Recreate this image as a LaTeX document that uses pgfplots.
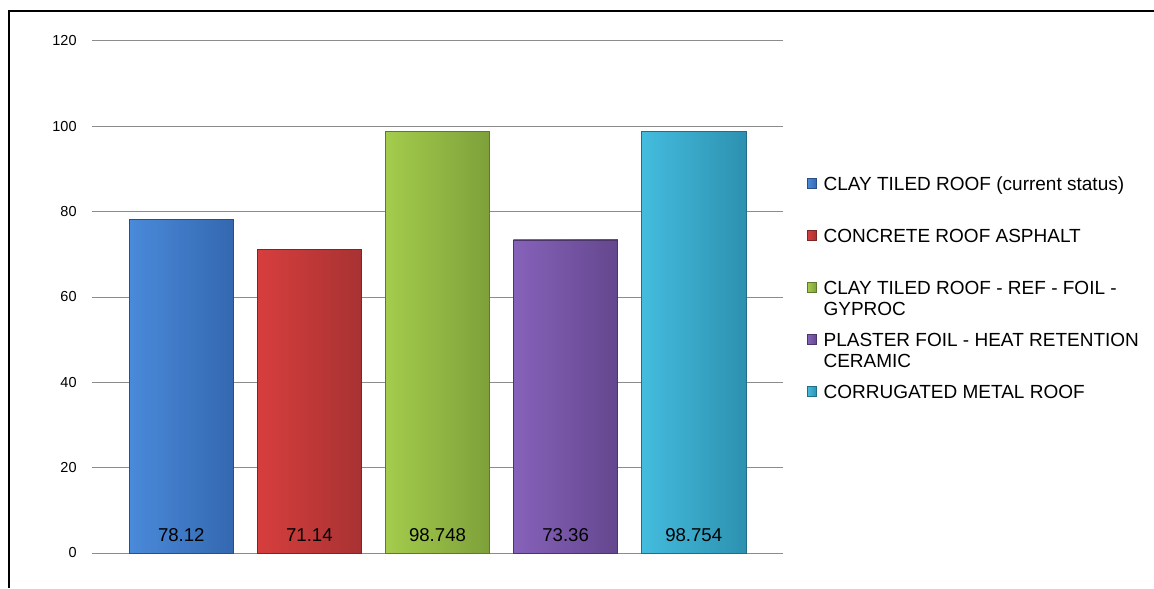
\documentclass[border=0pt]{standalone}
\usepackage{pgfplots}
\pgfplotsset{compat=1.18}
\usepackage{fontspec}
\setmainfont{Liberation Sans}

\definecolor{gridgray}{RGB}{140,140,140}
\definecolor{blueL}{RGB}{74,138,218}
\definecolor{blueM}{RGB}{60,120,198}
\definecolor{blueD}{RGB}{52,104,176}
\definecolor{blueE}{RGB}{40,80,135}
\definecolor{redL}{RGB}{215,62,62}
\definecolor{redM}{RGB}{188,58,58}
\definecolor{redD}{RGB}{168,50,50}
\definecolor{redE}{RGB}{125,38,38}
\definecolor{greenL}{RGB}{164,204,76}
\definecolor{greenM}{RGB}{143,180,66}
\definecolor{greenD}{RGB}{126,160,58}
\definecolor{greenE}{RGB}{95,120,45}
\definecolor{purpL}{RGB}{134,98,186}
\definecolor{purpM}{RGB}{114,81,160}
\definecolor{purpD}{RGB}{100,71,142}
\definecolor{purpE}{RGB}{75,53,106}
\definecolor{cyanL}{RGB}{68,188,222}
\definecolor{cyanM}{RGB}{52,164,198}
\definecolor{cyanD}{RGB}{45,145,176}
\definecolor{cyanE}{RGB}{34,110,134}

% legend text: two-line slot, text set from the top
\newcommand{\legtext}[1]{\parbox[c][21pt][t]{180pt}{\fontsize{9.5}{10.5}\selectfont\strut #1}}

\pgfplotsset{
  legsq/.style={legend image code/.code={
      \pgfpathrectangle{\pgfpoint{0pt}{-2.3pt}}{\pgfpoint{4.6pt}{4.6pt}}%
      \pgfusepath{use as bounding box}%
      \fill[##1] (0pt,4.25pt) rectangle (4.6pt,8.85pt);
  }},
  roofbar/.style={ybar, bar width=0.816, bar shift=0pt, line width=0.4pt},
}

\begin{document}
\begin{tikzpicture}
\useasboundingbox (0pt,0pt) rectangle (577pt,-294pt);
% outer frame
\draw[line width=1pt] (4.6pt,-294pt) -- (4.6pt,-5.5pt) -- (577pt,-5.5pt);

\begin{axis}[
  at={(46pt,-276.5pt)}, anchor=south west,
  scale only axis, width=345.5pt, height=256pt,
  xmin=-0.697, xmax=4.697, ymin=0, ymax=120,
  ytick={0,20,40,60,80,100,120}, xtick=\empty,
  ymajorgrids, major grid style={gridgray, line width=0.5pt},
  axis line style={draw=none},
  major tick length=0pt,
  yticklabel style={font=\fontsize{7.25}{8}\selectfont, inner sep=0pt, anchor=east, xshift=-7.5pt},
  /pgf/number format/assume math mode=true,
  clip=false,
  legend cell align=left,
  legend style={draw=none, fill=none, inner sep=0pt, at={(1.0347,0.738)}, anchor=north west,
    row sep=5pt, column sep=3.5pt, nodes={inner sep=0pt, text depth={}}},
]
\addplot[roofbar, draw=blueE, left color=blueL, middle color=blueM, right color=blueD, legsq]
  coordinates {(0,78.12)};
\addlegendentry{\legtext{CLAY TILED ROOF (current status)}}
\addplot[roofbar, draw=redE, left color=redL, middle color=redM, right color=redD, legsq]
  coordinates {(1,71.14)};
\addlegendentry{\legtext{CONCRETE ROOF ASPHALT}}
\addplot[roofbar, draw=greenE, left color=greenL, middle color=greenM, right color=greenD, legsq]
  coordinates {(2,98.748)};
\addlegendentry{\legtext{CLAY TILED ROOF - REF - FOIL -\newline GYPROC}}
\addplot[roofbar, draw=purpE, left color=purpL, middle color=purpM, right color=purpD, legsq]
  coordinates {(3,73.36)};
\addlegendentry{\legtext{PLASTER FOIL - HEAT RETENTION\newline CERAMIC}}
\addplot[roofbar, draw=cyanE, left color=cyanL, middle color=cyanM, right color=cyanD, legsq]
  coordinates {(4,98.754)};
\addlegendentry{\legtext{CORRUGATED METAL ROOF}}

% value labels near the foot of each bar
\addplot[draw=none, forget plot, point meta=explicit,
  nodes near coords={\pgfmathprintnumber[fixed,precision=3]{\pgfplotspointmeta}},
  every node near coord/.style={anchor=center, font=\fontsize{9.3}{11}\selectfont, text=black}]
  coordinates {(0,4.2) [78.12] (1,4.2) [71.14] (2,4.2) [98.748] (3,4.2) [73.36] (4,4.2) [98.754]};
\end{axis}
\end{tikzpicture}
\end{document}
